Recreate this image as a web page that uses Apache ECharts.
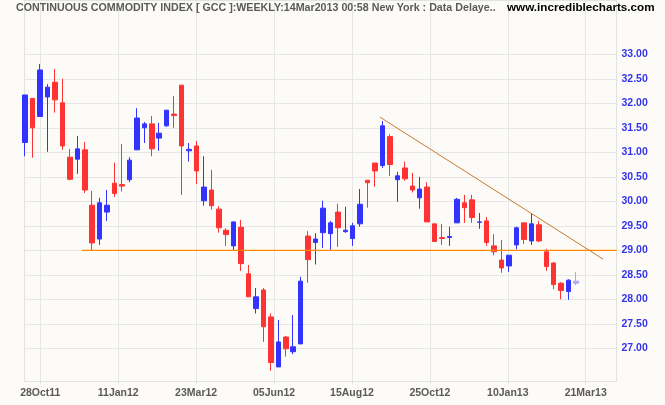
<!DOCTYPE html>
<html>
<head>
<meta charset="utf-8">
<script src="https://cdn.jsdelivr.net/npm/echarts@6/dist/echarts.min.js"></script>
<style>
html,body{margin:0;padding:0;background:#fcfbf7;}
#c{width:665px;height:405px;}
</style>
</head>
<body>
<div id="c"></div>
<script>
// Weekly OHLC, one entry per week (oldest first)
var opens  = [31.20,32.10,31.73,32.13,32.43,32.01,30.90,30.86,31.05,29.92,
              29.23,29.78,30.37,30.34,30.44,31.05,31.50,31.58,31.29,31.54,
              31.78,32.37,31.03,31.13,30.01,30.23,29.84,29.41,29.09,29.47,
              28.52,27.81,28.19,27.64,26.62,27.23,26.93,27.09,29.29,29.16,
              29.36,29.34,29.78,29.38,29.24,29.54,30.43,30.78,30.73,31.32,
              30.44,30.68,30.31,30.07,30.29,29.54,29.26,29.26,29.56,29.97,
              30.03,29.57,29.60,29.09,28.80,28.68,29.11,29.56,29.19,29.52,
              28.97,28.74,28.33,28.16,28.33];
var closes = [32.17,31.50,32.68,32.33,32.07,31.13,30.45,31.07,30.23,29.15,
              29.97,29.92,30.16,30.31,30.84,31.70,31.58,31.07,31.39,31.86,
              31.75,31.13,31.06,30.62,30.29,29.91,29.46,29.32,29.58,28.73,
              28.05,28.05,27.44,26.71,27.13,26.99,27.03,28.37,28.81,29.23,
              29.86,29.56,29.46,29.41,29.50,29.94,30.38,30.62,31.54,30.75,
              30.52,30.46,30.23,30.25,29.58,29.18,29.24,29.28,30.04,29.87,
              29.67,29.58,29.16,28.97,28.64,28.90,29.46,29.22,29.54,29.19,
              28.67,28.30,28.18,28.39,28.37];
var lows   = [30.92,30.89,31.73,31.01,31.81,31.05,30.43,30.56,30.17,29.00,
              29.11,29.60,30.09,30.20,30.39,31.05,31.19,30.92,31.03,31.52,
              31.50,30.13,30.81,30.35,29.91,29.83,29.36,29.09,29.00,28.58,
              28.05,27.71,27.13,26.54,26.62,26.83,26.88,27.09,28.34,28.71,
              29.05,29.01,29.07,29.36,29.09,29.48,29.87,30.30,30.68,30.52,
              29.99,30.42,30.18,29.85,29.58,29.18,29.11,29.09,29.56,29.56,
              29.56,29.44,29.09,28.90,28.54,28.56,29.02,29.13,29.11,29.17,
              28.58,28.21,28.00,27.99,28.29];
var highs  = [32.17,32.10,32.80,32.39,32.70,32.50,31.07,31.33,31.21,30.21,
              30.07,30.23,30.79,31.17,30.90,31.90,31.62,31.74,31.60,31.86,
              32.15,32.37,31.19,31.23,30.92,30.64,29.90,29.45,29.58,29.62,
              28.70,28.23,28.23,27.71,27.58,27.25,27.68,28.46,29.39,29.35,
              30.01,29.60,29.95,29.89,29.56,30.25,30.43,30.78,31.64,31.37,
              30.60,30.81,30.58,30.50,30.39,29.54,29.54,29.48,30.07,30.13,
              30.13,29.76,29.68,29.33,29.21,28.90,29.48,29.56,29.75,29.60,
              29.03,28.76,28.35,28.41,28.56];

// x-axis date labels (evenly spaced along the axis)
var xTickLabels = ['28Oct11','11Jan12','23Mar12','05Jun12','15Aug12','25Oct12','10Jan13','21Mar13'];

// Drawn lines, in [week index, price]
var supportLine    = [[7.63, 29.00], [79.43, 29.00]];
var resistanceLine = [[47.64, 31.72], [77.63, 28.82]];

var weekMin = -0.094, weekMax = 79.43;

var candleData = opens.map(function (o, i) {
  var item = { value: [i, o, closes[i], lows[i], highs[i]] };
  if (i === opens.length - 1) {
    item.itemStyle = { color: '#a9a9f5', color0: '#a9a9f5', borderColor: '#a9a9f5', borderColor0: '#a9a9f5' };
  }
  return item;
});

var FONT = '"Liberation Sans", Arial, sans-serif';
var chart = echarts.init(document.getElementById('c'), null, { renderer: 'canvas' });
chart.setOption({
  backgroundColor: '#fcfbf7',
  animation: false,
  title: [
    { text: 'CONTINUOUS COMMODITY INDEX [ GCC ]:WEEKLY:14Mar2013 00:58 New York : Data Delaye..',
      left: 16, top: 3, padding: 0,
      textStyle: { fontFamily: FONT, fontSize: 10.7, fontWeight: 'bold', color: '#5a5a5a' } },
    { text: 'www.incrediblecharts.com', left: 507, top: 2, padding: 0,
      textStyle: { fontFamily: FONT, fontSize: 11.7, fontWeight: 'bold', color: '#000' } }
  ],
  grid: [
    { left: 24.5, right: 48.5, top: 54.3, bottom: 56.7, show: false },
    { left: 40.3, right: 79.3, top: 0, bottom: 23.5, show: false },
    { left: 24.5, right: 48.5, top: 0.5, bottom: 23.5, show: true, borderColor: '#e2e2e2', borderWidth: 1, backgroundColor: 'transparent' }
  ],
  xAxis: [
    { type: 'value', gridIndex: 0, min: weekMin, max: weekMax, show: false },
    { type: 'category', gridIndex: 1, data: xTickLabels, boundaryGap: false,
      axisLine: { show: false },
      axisTick: { show: true, length: 3, lineStyle: { color: '#e2e2e2' } },
      axisLabel: { margin: 6, fontFamily: FONT, fontSize: 10.5, fontWeight: 'bold', color: '#5a5a5a' },
      splitLine: { show: true, lineStyle: { color: '#e6e6e6', width: 1 } } },
    { type: 'value', gridIndex: 2, show: false, min: 0, max: 1 }
  ],
  yAxis: [
    { type: 'value', gridIndex: 0, position: 'right', min: 27, max: 33, interval: 0.5,
      axisLine: { show: false }, axisTick: { show: false },
      axisLabel: { margin: 5, fontFamily: FONT, fontSize: 10.5, fontWeight: 'bold', color: '#3434f0',
        formatter: function (v) { return v.toFixed(2); } },
      splitLine: { show: true, lineStyle: { color: '#e6e6e6', width: 1 } } },
    { type: 'value', gridIndex: 1, show: false, min: 0, max: 1 },
    { type: 'value', gridIndex: 2, show: false, min: 0, max: 1 }
  ],
  series: [
    { type: 'candlestick', xAxisIndex: 0, yAxisIndex: 0, barWidth: 5, clip: false,
      encode: { x: 0, y: [1, 2, 3, 4] },
      itemStyle: { color: '#3333ff', color0: '#ff3333', borderColor: '#3333ff', borderColor0: '#ff3333', borderWidth: 1 },
      data: candleData },
    { type: 'line', xAxisIndex: 0, yAxisIndex: 0, data: supportLine, symbol: 'none', silent: true,
      lineStyle: { color: '#ff8a00', width: 1.3 }, z: 3 },
    { type: 'line', xAxisIndex: 0, yAxisIndex: 0, data: resistanceLine, symbol: 'none', silent: true,
      lineStyle: { color: '#c97a30', width: 1 }, z: 3 }
  ]
});
</script>
</body>
</html>
